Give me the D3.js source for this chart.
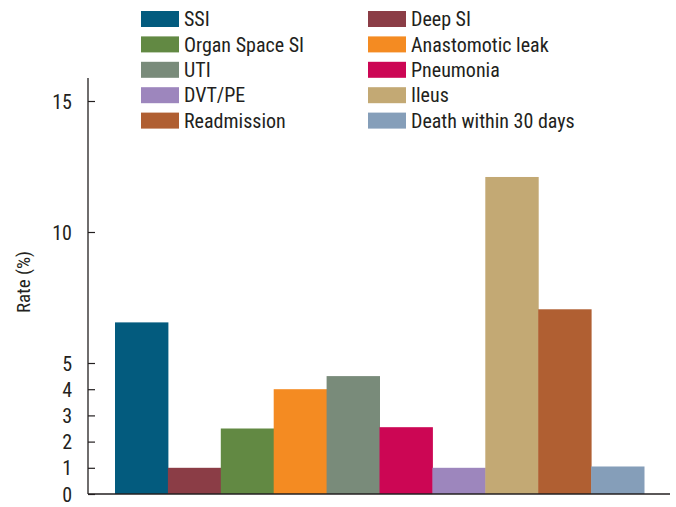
<!DOCTYPE html>
<html>
<head>
<meta charset="utf-8">
<script src="https://cdn.jsdelivr.net/npm/d3@7"></script>
<style>
  html, body { margin: 0; padding: 0; background: #fff; }
  svg text { font-family: "Liberation Sans Narrow", "Arial Narrow", "Roboto Condensed", "Liberation Sans", sans-serif; fill: #231f20; }
</style>
</head>
<body>
<svg id="chart" width="676" height="507"></svg>
<script>
// Postoperative outcomes, rate in percent
const categories = ["SSI", "Deep SI", "Organ Space SI", "Anastomotic leak", "UTI",
                    "Pneumonia", "DVT/PE", "Ileus", "Readmission", "Death within 30 days"];
const rates = [6.55, 1.0, 2.5, 4.0, 4.5, 2.55, 1.0, 12.1, 7.05, 1.05];
const colors = ["#035b7e", "#8b3d46", "#628943", "#f48b22", "#798b7a",
                "#cc0654", "#9d86bd", "#c3a974", "#b05f32", "#859eb9"];
const yTicks = [0, 1, 2, 3, 4, 5, 10, 15];

const svg = d3.select("#chart");

const y = d3.scaleLinear().domain([0, 15]).range([494, 101]);
const x = d3.scaleBand().domain(categories).range([115, 644]).paddingInner(0).paddingOuter(0);
const color = d3.scaleOrdinal().domain(categories).range(colors);

// Bars
svg.append("g")
  .selectAll("rect")
  .data(categories)
  .join("rect")
  .attr("x", d => x(d))
  .attr("width", x.bandwidth() + 0.5)
  .attr("y", (d, i) => y(rates[i]))
  .attr("height", (d, i) => y(0) - y(rates[i]))
  .attr("fill", d => color(d));

// Y axis with inward ticks
const yAxis = d3.axisRight(y)
  .tickValues(yTicks)
  .tickFormat(d3.format("d"))
  .tickSize(7)
  .tickSizeOuter(0);

const gy = svg.append("g")
  .attr("transform", "translate(88,0)")
  .call(yAxis);
gy.select(".domain").remove();
gy.selectAll(".tick line").attr("stroke", "#231f20").attr("stroke-width", 1.2);
gy.selectAll(".tick text")
  .attr("x", -16)
  .attr("text-anchor", "end")
  .attr("font-size", 20)
  .attr("dy", "0.35em");

// Axis lines
svg.append("line")
  .attr("x1", 88).attr("x2", 88)
  .attr("y1", 78).attr("y2", y(0))
  .attr("stroke", "#231f20").attr("stroke-width", 1.3);
svg.append("line")
  .attr("x1", 88).attr("x2", 670)
  .attr("y1", y(0)).attr("y2", y(0))
  .attr("stroke", "#231f20").attr("stroke-width", 1.6);

// Y axis title
svg.append("text")
  .attr("transform", "translate(30,282) rotate(-90)")
  .attr("text-anchor", "middle")
  .attr("font-size", 19)
  .text("Rate (%)");

// Legend in two columns
const legend = svg.append("g");
const item = legend.selectAll("g")
  .data(categories)
  .join("g")
  .attr("transform", (d, i) => {
    const col = i % 2, row = Math.floor(i / 2);
    return `translate(${col === 0 ? 141 : 368},${11 + row * 25.4})`;
  });
item.append("rect")
  .attr("width", 38).attr("height", 16)
  .attr("fill", d => color(d));
item.append("text")
  .attr("x", 43).attr("y", 8)
  .attr("dy", "0.36em")
  .attr("font-size", 20)
  .text(d => d);
</script>
</body>
</html>
